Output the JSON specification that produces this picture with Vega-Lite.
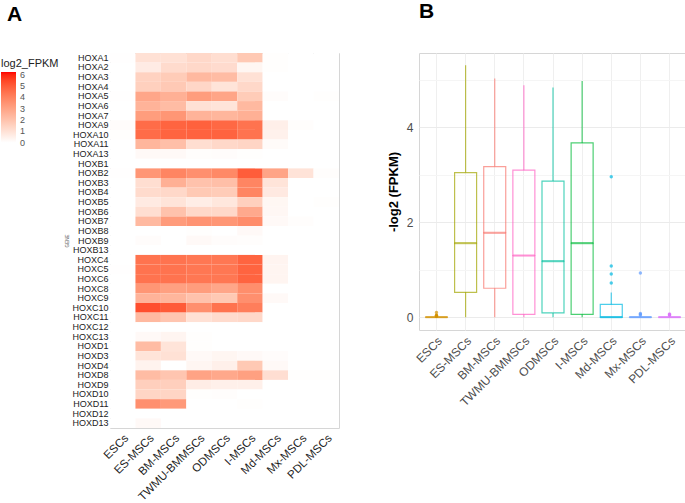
{
"$schema": "https://vega.github.io/schema/vega-lite/v6.json",
"padding": 0,
"background": "white",
"config": {"font": "Liberation Sans", "view": {"stroke": "#d6d6d6", "strokeWidth": 1}, "axis": {"domain": false, "ticks": false, "labelFont": "Liberation Sans", "titleFont": "Liberation Sans"}},
"datasets": {"expr": [
{"gene":"HOXA1","cell":"ESCs","value":0.02},{"gene":"HOXA1","cell":"ES-MSCs","value":1.0},{"gene":"HOXA1","cell":"BM-MSCs","value":1.0},{"gene":"HOXA1","cell":"TWMU-BMMSCs","value":1.3},{"gene":"HOXA1","cell":"ODMSCs","value":1.1},{"gene":"HOXA1","cell":"I-MSCs","value":1.8},{"gene":"HOXA1","cell":"Md-MSCs","value":0.05},{"gene":"HOXA1","cell":"Mx-MSCs","value":0},{"gene":"HOXA1","cell":"PDL-MSCs","value":0},
{"gene":"HOXA2","cell":"ESCs","value":0},{"gene":"HOXA2","cell":"ES-MSCs","value":0.65},{"gene":"HOXA2","cell":"BM-MSCs","value":1.2},{"gene":"HOXA2","cell":"TWMU-BMMSCs","value":1.3},{"gene":"HOXA2","cell":"ODMSCs","value":1.18},{"gene":"HOXA2","cell":"I-MSCs","value":0.3},{"gene":"HOXA2","cell":"Md-MSCs","value":0.05},{"gene":"HOXA2","cell":"Mx-MSCs","value":0},{"gene":"HOXA2","cell":"PDL-MSCs","value":0},
{"gene":"HOXA3","cell":"ESCs","value":0},{"gene":"HOXA3","cell":"ES-MSCs","value":1.5},{"gene":"HOXA3","cell":"BM-MSCs","value":1.7},{"gene":"HOXA3","cell":"TWMU-BMMSCs","value":2.3},{"gene":"HOXA3","cell":"ODMSCs","value":2.2},{"gene":"HOXA3","cell":"I-MSCs","value":1.0},{"gene":"HOXA3","cell":"Md-MSCs","value":0},{"gene":"HOXA3","cell":"Mx-MSCs","value":0},{"gene":"HOXA3","cell":"PDL-MSCs","value":0},
{"gene":"HOXA4","cell":"ESCs","value":0},{"gene":"HOXA4","cell":"ES-MSCs","value":1.56},{"gene":"HOXA4","cell":"BM-MSCs","value":1.78},{"gene":"HOXA4","cell":"TWMU-BMMSCs","value":1.35},{"gene":"HOXA4","cell":"ODMSCs","value":0.9},{"gene":"HOXA4","cell":"I-MSCs","value":1.3},{"gene":"HOXA4","cell":"Md-MSCs","value":0},{"gene":"HOXA4","cell":"Mx-MSCs","value":0},{"gene":"HOXA4","cell":"PDL-MSCs","value":0},
{"gene":"HOXA5","cell":"ESCs","value":0.03},{"gene":"HOXA5","cell":"ES-MSCs","value":2.9},{"gene":"HOXA5","cell":"BM-MSCs","value":2.6},{"gene":"HOXA5","cell":"TWMU-BMMSCs","value":3.2},{"gene":"HOXA5","cell":"ODMSCs","value":2.95},{"gene":"HOXA5","cell":"I-MSCs","value":1.7},{"gene":"HOXA5","cell":"Md-MSCs","value":0.1},{"gene":"HOXA5","cell":"Mx-MSCs","value":0},{"gene":"HOXA5","cell":"PDL-MSCs","value":0.05},
{"gene":"HOXA6","cell":"ESCs","value":0},{"gene":"HOXA6","cell":"ES-MSCs","value":2.5},{"gene":"HOXA6","cell":"BM-MSCs","value":2.2},{"gene":"HOXA6","cell":"TWMU-BMMSCs","value":1.0},{"gene":"HOXA6","cell":"ODMSCs","value":0.9},{"gene":"HOXA6","cell":"I-MSCs","value":2.3},{"gene":"HOXA6","cell":"Md-MSCs","value":0},{"gene":"HOXA6","cell":"Mx-MSCs","value":0},{"gene":"HOXA6","cell":"PDL-MSCs","value":0},
{"gene":"HOXA7","cell":"ESCs","value":0},{"gene":"HOXA7","cell":"ES-MSCs","value":3.2},{"gene":"HOXA7","cell":"BM-MSCs","value":3.4},{"gene":"HOXA7","cell":"TWMU-BMMSCs","value":2.5},{"gene":"HOXA7","cell":"ODMSCs","value":2.4},{"gene":"HOXA7","cell":"I-MSCs","value":2.6},{"gene":"HOXA7","cell":"Md-MSCs","value":0},{"gene":"HOXA7","cell":"Mx-MSCs","value":0},{"gene":"HOXA7","cell":"PDL-MSCs","value":0},
{"gene":"HOXA9","cell":"ESCs","value":0.1},{"gene":"HOXA9","cell":"ES-MSCs","value":4.6},{"gene":"HOXA9","cell":"BM-MSCs","value":4.8},{"gene":"HOXA9","cell":"TWMU-BMMSCs","value":4.89},{"gene":"HOXA9","cell":"ODMSCs","value":4.7},{"gene":"HOXA9","cell":"I-MSCs","value":4.4},{"gene":"HOXA9","cell":"Md-MSCs","value":0.52},{"gene":"HOXA9","cell":"Mx-MSCs","value":0.06},{"gene":"HOXA9","cell":"PDL-MSCs","value":0},
{"gene":"HOXA10","cell":"ESCs","value":0.04},{"gene":"HOXA10","cell":"ES-MSCs","value":4.6},{"gene":"HOXA10","cell":"BM-MSCs","value":4.8},{"gene":"HOXA10","cell":"TWMU-BMMSCs","value":4.85},{"gene":"HOXA10","cell":"ODMSCs","value":4.84},{"gene":"HOXA10","cell":"I-MSCs","value":4.4},{"gene":"HOXA10","cell":"Md-MSCs","value":0.45},{"gene":"HOXA10","cell":"Mx-MSCs","value":0},{"gene":"HOXA10","cell":"PDL-MSCs","value":0},
{"gene":"HOXA11","cell":"ESCs","value":0},{"gene":"HOXA11","cell":"ES-MSCs","value":2.4},{"gene":"HOXA11","cell":"BM-MSCs","value":2.1},{"gene":"HOXA11","cell":"TWMU-BMMSCs","value":1.1},{"gene":"HOXA11","cell":"ODMSCs","value":1.3},{"gene":"HOXA11","cell":"I-MSCs","value":1.4},{"gene":"HOXA11","cell":"Md-MSCs","value":0.15},{"gene":"HOXA11","cell":"Mx-MSCs","value":0},{"gene":"HOXA11","cell":"PDL-MSCs","value":0},
{"gene":"HOXA13","cell":"ESCs","value":0},{"gene":"HOXA13","cell":"ES-MSCs","value":0.2},{"gene":"HOXA13","cell":"BM-MSCs","value":0.2},{"gene":"HOXA13","cell":"TWMU-BMMSCs","value":0.07},{"gene":"HOXA13","cell":"ODMSCs","value":0.1},{"gene":"HOXA13","cell":"I-MSCs","value":0.05},{"gene":"HOXA13","cell":"Md-MSCs","value":0},{"gene":"HOXA13","cell":"Mx-MSCs","value":0},{"gene":"HOXA13","cell":"PDL-MSCs","value":0},
{"gene":"HOXB1","cell":"ESCs","value":0},{"gene":"HOXB1","cell":"ES-MSCs","value":0},{"gene":"HOXB1","cell":"BM-MSCs","value":0},{"gene":"HOXB1","cell":"TWMU-BMMSCs","value":0},{"gene":"HOXB1","cell":"ODMSCs","value":0},{"gene":"HOXB1","cell":"I-MSCs","value":0},{"gene":"HOXB1","cell":"Md-MSCs","value":0},{"gene":"HOXB1","cell":"Mx-MSCs","value":0},{"gene":"HOXB1","cell":"PDL-MSCs","value":0},
{"gene":"HOXB2","cell":"ESCs","value":0.03},{"gene":"HOXB2","cell":"ES-MSCs","value":3.4},{"gene":"HOXB2","cell":"BM-MSCs","value":3.9},{"gene":"HOXB2","cell":"TWMU-BMMSCs","value":3.6},{"gene":"HOXB2","cell":"ODMSCs","value":3.8},{"gene":"HOXB2","cell":"I-MSCs","value":4.98},{"gene":"HOXB2","cell":"Md-MSCs","value":2.96},{"gene":"HOXB2","cell":"Mx-MSCs","value":0.93},{"gene":"HOXB2","cell":"PDL-MSCs","value":0.07},
{"gene":"HOXB3","cell":"ESCs","value":0},{"gene":"HOXB3","cell":"ES-MSCs","value":1.1},{"gene":"HOXB3","cell":"BM-MSCs","value":2.6},{"gene":"HOXB3","cell":"TWMU-BMMSCs","value":2.0},{"gene":"HOXB3","cell":"ODMSCs","value":2.1},{"gene":"HOXB3","cell":"I-MSCs","value":3.9},{"gene":"HOXB3","cell":"Md-MSCs","value":0.91},{"gene":"HOXB3","cell":"Mx-MSCs","value":0},{"gene":"HOXB3","cell":"PDL-MSCs","value":0},
{"gene":"HOXB4","cell":"ESCs","value":0},{"gene":"HOXB4","cell":"ES-MSCs","value":1.2},{"gene":"HOXB4","cell":"BM-MSCs","value":1.3},{"gene":"HOXB4","cell":"TWMU-BMMSCs","value":1.8},{"gene":"HOXB4","cell":"ODMSCs","value":1.7},{"gene":"HOXB4","cell":"I-MSCs","value":3.9},{"gene":"HOXB4","cell":"Md-MSCs","value":0.72},{"gene":"HOXB4","cell":"Mx-MSCs","value":0},{"gene":"HOXB4","cell":"PDL-MSCs","value":0},
{"gene":"HOXB5","cell":"ESCs","value":0},{"gene":"HOXB5","cell":"ES-MSCs","value":0.7},{"gene":"HOXB5","cell":"BM-MSCs","value":0.9},{"gene":"HOXB5","cell":"TWMU-BMMSCs","value":0.6},{"gene":"HOXB5","cell":"ODMSCs","value":0.8},{"gene":"HOXB5","cell":"I-MSCs","value":1.56},{"gene":"HOXB5","cell":"Md-MSCs","value":0.28},{"gene":"HOXB5","cell":"Mx-MSCs","value":0},{"gene":"HOXB5","cell":"PDL-MSCs","value":0.04},
{"gene":"HOXB6","cell":"ESCs","value":0},{"gene":"HOXB6","cell":"ES-MSCs","value":1.1},{"gene":"HOXB6","cell":"BM-MSCs","value":2.0},{"gene":"HOXB6","cell":"TWMU-BMMSCs","value":1.3},{"gene":"HOXB6","cell":"ODMSCs","value":1.3},{"gene":"HOXB6","cell":"I-MSCs","value":2.8},{"gene":"HOXB6","cell":"Md-MSCs","value":0.26},{"gene":"HOXB6","cell":"Mx-MSCs","value":0},{"gene":"HOXB6","cell":"PDL-MSCs","value":0},
{"gene":"HOXB7","cell":"ESCs","value":0},{"gene":"HOXB7","cell":"ES-MSCs","value":2.3},{"gene":"HOXB7","cell":"BM-MSCs","value":3.25},{"gene":"HOXB7","cell":"TWMU-BMMSCs","value":3.5},{"gene":"HOXB7","cell":"ODMSCs","value":3.4},{"gene":"HOXB7","cell":"I-MSCs","value":3.7},{"gene":"HOXB7","cell":"Md-MSCs","value":0.2},{"gene":"HOXB7","cell":"Mx-MSCs","value":0.08},{"gene":"HOXB7","cell":"PDL-MSCs","value":0},
{"gene":"HOXB8","cell":"ESCs","value":0},{"gene":"HOXB8","cell":"ES-MSCs","value":0},{"gene":"HOXB8","cell":"BM-MSCs","value":0},{"gene":"HOXB8","cell":"TWMU-BMMSCs","value":0.05},{"gene":"HOXB8","cell":"ODMSCs","value":0},{"gene":"HOXB8","cell":"I-MSCs","value":0.2},{"gene":"HOXB8","cell":"Md-MSCs","value":0},{"gene":"HOXB8","cell":"Mx-MSCs","value":0},{"gene":"HOXB8","cell":"PDL-MSCs","value":0},
{"gene":"HOXB9","cell":"ESCs","value":0},{"gene":"HOXB9","cell":"ES-MSCs","value":0.1},{"gene":"HOXB9","cell":"BM-MSCs","value":0},{"gene":"HOXB9","cell":"TWMU-BMMSCs","value":0.2},{"gene":"HOXB9","cell":"ODMSCs","value":0.1},{"gene":"HOXB9","cell":"I-MSCs","value":0.07},{"gene":"HOXB9","cell":"Md-MSCs","value":0},{"gene":"HOXB9","cell":"Mx-MSCs","value":0},{"gene":"HOXB9","cell":"PDL-MSCs","value":0},
{"gene":"HOXB13","cell":"ESCs","value":0},{"gene":"HOXB13","cell":"ES-MSCs","value":0},{"gene":"HOXB13","cell":"BM-MSCs","value":0},{"gene":"HOXB13","cell":"TWMU-BMMSCs","value":0},{"gene":"HOXB13","cell":"ODMSCs","value":0},{"gene":"HOXB13","cell":"I-MSCs","value":0},{"gene":"HOXB13","cell":"Md-MSCs","value":0},{"gene":"HOXB13","cell":"Mx-MSCs","value":0},{"gene":"HOXB13","cell":"PDL-MSCs","value":0},
{"gene":"HOXC4","cell":"ESCs","value":0},{"gene":"HOXC4","cell":"ES-MSCs","value":4.4},{"gene":"HOXC4","cell":"BM-MSCs","value":4.4},{"gene":"HOXC4","cell":"TWMU-BMMSCs","value":4.3},{"gene":"HOXC4","cell":"ODMSCs","value":4.3},{"gene":"HOXC4","cell":"I-MSCs","value":4.8},{"gene":"HOXC4","cell":"Md-MSCs","value":0.35},{"gene":"HOXC4","cell":"Mx-MSCs","value":0},{"gene":"HOXC4","cell":"PDL-MSCs","value":0},
{"gene":"HOXC5","cell":"ESCs","value":0.02},{"gene":"HOXC5","cell":"ES-MSCs","value":4.4},{"gene":"HOXC5","cell":"BM-MSCs","value":4.4},{"gene":"HOXC5","cell":"TWMU-BMMSCs","value":4.3},{"gene":"HOXC5","cell":"ODMSCs","value":4.3},{"gene":"HOXC5","cell":"I-MSCs","value":4.8},{"gene":"HOXC5","cell":"Md-MSCs","value":0.33},{"gene":"HOXC5","cell":"Mx-MSCs","value":0},{"gene":"HOXC5","cell":"PDL-MSCs","value":0},
{"gene":"HOXC6","cell":"ESCs","value":0},{"gene":"HOXC6","cell":"ES-MSCs","value":4.4},{"gene":"HOXC6","cell":"BM-MSCs","value":4.4},{"gene":"HOXC6","cell":"TWMU-BMMSCs","value":4.3},{"gene":"HOXC6","cell":"ODMSCs","value":4.3},{"gene":"HOXC6","cell":"I-MSCs","value":4.8},{"gene":"HOXC6","cell":"Md-MSCs","value":0.32},{"gene":"HOXC6","cell":"Mx-MSCs","value":0},{"gene":"HOXC6","cell":"PDL-MSCs","value":0},
{"gene":"HOXC8","cell":"ESCs","value":0},{"gene":"HOXC8","cell":"ES-MSCs","value":3.4},{"gene":"HOXC8","cell":"BM-MSCs","value":3.1},{"gene":"HOXC8","cell":"TWMU-BMMSCs","value":3.2},{"gene":"HOXC8","cell":"ODMSCs","value":2.9},{"gene":"HOXC8","cell":"I-MSCs","value":3.65},{"gene":"HOXC8","cell":"Md-MSCs","value":0},{"gene":"HOXC8","cell":"Mx-MSCs","value":0},{"gene":"HOXC8","cell":"PDL-MSCs","value":0},
{"gene":"HOXC9","cell":"ESCs","value":0},{"gene":"HOXC9","cell":"ES-MSCs","value":2.5},{"gene":"HOXC9","cell":"BM-MSCs","value":2.4},{"gene":"HOXC9","cell":"TWMU-BMMSCs","value":2.0},{"gene":"HOXC9","cell":"ODMSCs","value":1.8},{"gene":"HOXC9","cell":"I-MSCs","value":3.6},{"gene":"HOXC9","cell":"Md-MSCs","value":0.2},{"gene":"HOXC9","cell":"Mx-MSCs","value":0},{"gene":"HOXC9","cell":"PDL-MSCs","value":0},
{"gene":"HOXC10","cell":"ESCs","value":0},{"gene":"HOXC10","cell":"ES-MSCs","value":5.31},{"gene":"HOXC10","cell":"BM-MSCs","value":5.03},{"gene":"HOXC10","cell":"TWMU-BMMSCs","value":3.6},{"gene":"HOXC10","cell":"ODMSCs","value":4.4},{"gene":"HOXC10","cell":"I-MSCs","value":4.1},{"gene":"HOXC10","cell":"Md-MSCs","value":0},{"gene":"HOXC10","cell":"Mx-MSCs","value":0},{"gene":"HOXC10","cell":"PDL-MSCs","value":0},
{"gene":"HOXC11","cell":"ESCs","value":0},{"gene":"HOXC11","cell":"ES-MSCs","value":2.3},{"gene":"HOXC11","cell":"BM-MSCs","value":1.9},{"gene":"HOXC11","cell":"TWMU-BMMSCs","value":1.0},{"gene":"HOXC11","cell":"ODMSCs","value":1.2},{"gene":"HOXC11","cell":"I-MSCs","value":1.3},{"gene":"HOXC11","cell":"Md-MSCs","value":0},{"gene":"HOXC11","cell":"Mx-MSCs","value":0},{"gene":"HOXC11","cell":"PDL-MSCs","value":0},
{"gene":"HOXC12","cell":"ESCs","value":0},{"gene":"HOXC12","cell":"ES-MSCs","value":0},{"gene":"HOXC12","cell":"BM-MSCs","value":0},{"gene":"HOXC12","cell":"TWMU-BMMSCs","value":0},{"gene":"HOXC12","cell":"ODMSCs","value":0},{"gene":"HOXC12","cell":"I-MSCs","value":0},{"gene":"HOXC12","cell":"Md-MSCs","value":0},{"gene":"HOXC12","cell":"Mx-MSCs","value":0},{"gene":"HOXC12","cell":"PDL-MSCs","value":0},
{"gene":"HOXC13","cell":"ESCs","value":0},{"gene":"HOXC13","cell":"ES-MSCs","value":0.2},{"gene":"HOXC13","cell":"BM-MSCs","value":0.32},{"gene":"HOXC13","cell":"TWMU-BMMSCs","value":0.05},{"gene":"HOXC13","cell":"ODMSCs","value":0},{"gene":"HOXC13","cell":"I-MSCs","value":0},{"gene":"HOXC13","cell":"Md-MSCs","value":0},{"gene":"HOXC13","cell":"Mx-MSCs","value":0},{"gene":"HOXC13","cell":"PDL-MSCs","value":0},
{"gene":"HOXD1","cell":"ESCs","value":0},{"gene":"HOXD1","cell":"ES-MSCs","value":2.2},{"gene":"HOXD1","cell":"BM-MSCs","value":0.9},{"gene":"HOXD1","cell":"TWMU-BMMSCs","value":0.05},{"gene":"HOXD1","cell":"ODMSCs","value":0},{"gene":"HOXD1","cell":"I-MSCs","value":0},{"gene":"HOXD1","cell":"Md-MSCs","value":0},{"gene":"HOXD1","cell":"Mx-MSCs","value":0},{"gene":"HOXD1","cell":"PDL-MSCs","value":0},
{"gene":"HOXD3","cell":"ESCs","value":0},{"gene":"HOXD3","cell":"ES-MSCs","value":0.9},{"gene":"HOXD3","cell":"BM-MSCs","value":1.0},{"gene":"HOXD3","cell":"TWMU-BMMSCs","value":0.2},{"gene":"HOXD3","cell":"ODMSCs","value":0.3},{"gene":"HOXD3","cell":"I-MSCs","value":0.2},{"gene":"HOXD3","cell":"Md-MSCs","value":0.1},{"gene":"HOXD3","cell":"Mx-MSCs","value":0},{"gene":"HOXD3","cell":"PDL-MSCs","value":0},
{"gene":"HOXD4","cell":"ESCs","value":0},{"gene":"HOXD4","cell":"ES-MSCs","value":0.4},{"gene":"HOXD4","cell":"BM-MSCs","value":0},{"gene":"HOXD4","cell":"TWMU-BMMSCs","value":0.3},{"gene":"HOXD4","cell":"ODMSCs","value":0.5},{"gene":"HOXD4","cell":"I-MSCs","value":1.8},{"gene":"HOXD4","cell":"Md-MSCs","value":0.2},{"gene":"HOXD4","cell":"Mx-MSCs","value":0},{"gene":"HOXD4","cell":"PDL-MSCs","value":0},
{"gene":"HOXD8","cell":"ESCs","value":0},{"gene":"HOXD8","cell":"ES-MSCs","value":2.2},{"gene":"HOXD8","cell":"BM-MSCs","value":1.9},{"gene":"HOXD8","cell":"TWMU-BMMSCs","value":3.0},{"gene":"HOXD8","cell":"ODMSCs","value":2.84},{"gene":"HOXD8","cell":"I-MSCs","value":3.1},{"gene":"HOXD8","cell":"Md-MSCs","value":1.08},{"gene":"HOXD8","cell":"Mx-MSCs","value":0.04},{"gene":"HOXD8","cell":"PDL-MSCs","value":0.05},
{"gene":"HOXD9","cell":"ESCs","value":0},{"gene":"HOXD9","cell":"ES-MSCs","value":1.6},{"gene":"HOXD9","cell":"BM-MSCs","value":1.6},{"gene":"HOXD9","cell":"TWMU-BMMSCs","value":0.6},{"gene":"HOXD9","cell":"ODMSCs","value":0.5},{"gene":"HOXD9","cell":"I-MSCs","value":0.5},{"gene":"HOXD9","cell":"Md-MSCs","value":0},{"gene":"HOXD9","cell":"Mx-MSCs","value":0},{"gene":"HOXD9","cell":"PDL-MSCs","value":0},
{"gene":"HOXD10","cell":"ESCs","value":0},{"gene":"HOXD10","cell":"ES-MSCs","value":1.4},{"gene":"HOXD10","cell":"BM-MSCs","value":1.4},{"gene":"HOXD10","cell":"TWMU-BMMSCs","value":0.05},{"gene":"HOXD10","cell":"ODMSCs","value":0.08},{"gene":"HOXD10","cell":"I-MSCs","value":0},{"gene":"HOXD10","cell":"Md-MSCs","value":0},{"gene":"HOXD10","cell":"Mx-MSCs","value":0},{"gene":"HOXD10","cell":"PDL-MSCs","value":0},
{"gene":"HOXD11","cell":"ESCs","value":0},{"gene":"HOXD11","cell":"ES-MSCs","value":3.6},{"gene":"HOXD11","cell":"BM-MSCs","value":3.3},{"gene":"HOXD11","cell":"TWMU-BMMSCs","value":0},{"gene":"HOXD11","cell":"ODMSCs","value":0},{"gene":"HOXD11","cell":"I-MSCs","value":0.05},{"gene":"HOXD11","cell":"Md-MSCs","value":0},{"gene":"HOXD11","cell":"Mx-MSCs","value":0},{"gene":"HOXD11","cell":"PDL-MSCs","value":0},
{"gene":"HOXD12","cell":"ESCs","value":0},{"gene":"HOXD12","cell":"ES-MSCs","value":0},{"gene":"HOXD12","cell":"BM-MSCs","value":0},{"gene":"HOXD12","cell":"TWMU-BMMSCs","value":0},{"gene":"HOXD12","cell":"ODMSCs","value":0},{"gene":"HOXD12","cell":"I-MSCs","value":0},{"gene":"HOXD12","cell":"Md-MSCs","value":0},{"gene":"HOXD12","cell":"Mx-MSCs","value":0},{"gene":"HOXD12","cell":"PDL-MSCs","value":0},
{"gene":"HOXD13","cell":"ESCs","value":0},{"gene":"HOXD13","cell":"ES-MSCs","value":0.2},{"gene":"HOXD13","cell":"BM-MSCs","value":0},{"gene":"HOXD13","cell":"TWMU-BMMSCs","value":0},{"gene":"HOXD13","cell":"ODMSCs","value":0},{"gene":"HOXD13","cell":"I-MSCs","value":0},{"gene":"HOXD13","cell":"Md-MSCs","value":0},{"gene":"HOXD13","cell":"Mx-MSCs","value":0},{"gene":"HOXD13","cell":"PDL-MSCs","value":0}
]},
"spacing": 46,
"resolve": {"scale": {"color": "independent", "fill": "independent", "stroke": "independent", "x": "independent", "y": "independent"}},
"hconcat": [
{
"title": {"text": "A", "anchor": "start", "frame": "bounds", "fontSize": 21, "fontWeight": "bold", "offset": 28, "dx": 6, "color": "black", "font": "Liberation Sans"},
"width": 229, "height": 375,
"data": {"name": "expr"},
"mark": {"type": "rect"},
"encoding": {
"x": {"field": "cell", "type": "nominal", "sort": ["ESCs","ES-MSCs","BM-MSCs","TWMU-BMMSCs","ODMSCs","I-MSCs","Md-MSCs","Mx-MSCs","PDL-MSCs"], "scale": {"paddingInner": 0, "paddingOuter": 0},
 "axis": {"title": null, "labelAngle": -45, "labelAlign": "right", "labelBaseline": "top", "labelFontSize": 11.5, "labelColor": "#222222", "labelPadding": 4, "grid": false}},
"y": {"field": "gene", "type": "nominal", "sort": ["HOXA1","HOXA2","HOXA3","HOXA4","HOXA5","HOXA6","HOXA7","HOXA9","HOXA10","HOXA11","HOXA13","HOXB1","HOXB2","HOXB3","HOXB4","HOXB5","HOXB6","HOXB7","HOXB8","HOXB9","HOXB13","HOXC4","HOXC5","HOXC6","HOXC8","HOXC9","HOXC10","HOXC11","HOXC12","HOXC13","HOXD1","HOXD3","HOXD4","HOXD8","HOXD9","HOXD10","HOXD11","HOXD12","HOXD13"], "scale": {"paddingInner": 0, "paddingOuter": 0},
 "axis": {"title": "GENE", "titleFontSize": 4.5, "titleFontWeight": "normal", "titleColor": "#666666", "titlePadding": 2, "labelFontSize": 9, "labelColor": "#222222", "labelPadding": 2, "grid": false}},
"color": {"field": "value", "type": "quantitative", "scale": {"domain": [-0.3, 0, 6.24], "range": ["#ffffff", "#ffffff", "#ff0000"], "interpolate": "lab"},
 "legend": {"title": "log2_FPKM", "orient": "none", "legendX": -109, "legendY": 5, "direction": "vertical", "gradientLength": 74, "gradientThickness": 15, "gradientStrokeWidth": 0, "values": [0,1,2,3,4,5,6], "labelOverlap": false, "titleFontSize": 11, "titleFontWeight": "normal", "titleColor": "#222222", "titlePadding": 3, "labelFontSize": 9, "labelColor": "#555555", "labelOffset": 4, "padding": 0}}
}
},
{
"title": {"text": "B", "anchor": "start", "frame": "group", "fontSize": 21, "fontWeight": "bold", "offset": 31, "color": "black", "font": "Liberation Sans"},
"width": 268, "height": 277,
"data": {"name": "expr"},
"mark": {"type": "boxplot", "extent": 1.5, "size": 22,
 "box": {"fillOpacity": 0, "strokeOpacity": 0.7, "strokeWidth": 1.2},
 "median": {"strokeWidth": 1},
 "rule": {"strokeOpacity": 0.7, "strokeWidth": 1.2},
 "outliers": {"filled": true, "size": 12, "strokeWidth": 0}},
"encoding": {
"x": {"field": "cell", "type": "nominal", "sort": ["ESCs","ES-MSCs","BM-MSCs","TWMU-BMMSCs","ODMSCs","I-MSCs","Md-MSCs","Mx-MSCs","PDL-MSCs"], "scale": {"paddingInner": 0, "paddingOuter": 0.1},
 "axis": {"title": null, "labelAngle": -45, "labelAlign": "right", "labelBaseline": "top", "labelFontSize": 12, "labelColor": "#4d4d4d", "labelPadding": 5, "grid": true, "gridColor": "#efefef", "bandPosition": 0.5}},
"y": {"field": "value", "type": "quantitative", "scale": {"domain": [-0.27, 5.57], "nice": false, "zero": false},
 "axis": {"title": "-log2 (FPKM)", "titleFontSize": 13, "titleFontWeight": "bold", "titleColor": "black", "titlePadding": 6, "values": [0,1,2,3,4,5], "labelExpr": "datum.value % 2 === 0 ? datum.label : ''", "labelFontSize": 12, "labelColor": "#4d4d4d", "labelPadding": 6, "grid": true, "gridColor": {"condition": {"test": "datum.value % 2 === 0", "value": "#ebebeb"}, "value": "#f5f5f5"}}},
"fill": {"field": "cell", "type": "nominal", "scale": {"domain": ["ESCs","ES-MSCs","BM-MSCs","TWMU-BMMSCs","ODMSCs","I-MSCs","Md-MSCs","Mx-MSCs","PDL-MSCs"], "range": ["#D39200","#A3A500","#F8766D","#FF61C3","#00C19F","#00BA38","#00B9E3","#619CFF","#DB72FB"]}, "legend": null},
"stroke": {"field": "cell", "type": "nominal", "scale": {"domain": ["ESCs","ES-MSCs","BM-MSCs","TWMU-BMMSCs","ODMSCs","I-MSCs","Md-MSCs","Mx-MSCs","PDL-MSCs"], "range": ["#D39200","#A3A500","#F8766D","#FF61C3","#00C19F","#00BA38","#00B9E3","#619CFF","#DB72FB"]}, "legend": null}
}
}
]
}
